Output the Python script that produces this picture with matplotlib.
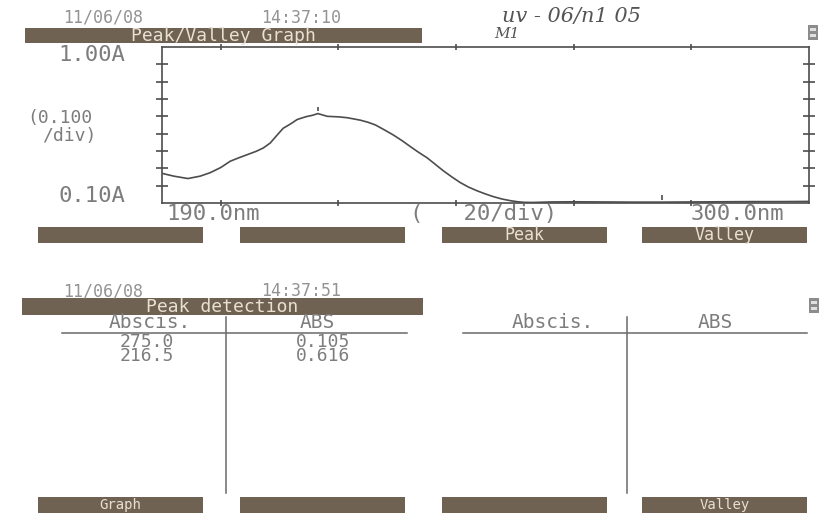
import matplotlib.pyplot as plt
from matplotlib.patches import Rectangle

# spectrum: wavelength (nm) and absorbance (A)
wavelength = [190.0, 192.0, 194.4, 196.5, 198.2, 200.0, 201.6, 203.0, 204.5, 206.0,
              207.2, 208.4, 209.6, 210.6, 211.8, 213.0, 214.5, 215.7, 216.5, 218.1,
              220.0, 221.5, 223.7, 225.0, 226.3, 227.8, 229.3, 230.8, 232.2, 233.6,
              235.1, 236.5, 237.9, 239.3, 240.7, 242.1, 243.6, 245.0, 246.4, 247.8,
              249.3, 250.5, 251.5, 253.0, 256.0, 260.0, 265.0, 270.0, 275.0, 280.0,
              285.0, 290.0, 295.0, 300.0]
absorbance = [0.271, 0.255, 0.241, 0.255, 0.275, 0.305, 0.341, 0.360, 0.379, 0.398,
              0.417, 0.446, 0.493, 0.531, 0.555, 0.582, 0.598, 0.607, 0.616, 0.600,
              0.597, 0.592, 0.578, 0.566, 0.550, 0.522, 0.493, 0.460, 0.426, 0.393,
              0.360, 0.322, 0.284, 0.250, 0.218, 0.192, 0.170, 0.152, 0.136, 0.123,
              0.113, 0.107, 0.104, 0.103, 0.106, 0.107, 0.106, 0.105, 0.105, 0.106,
              0.107, 0.108, 0.108, 0.109]

# peak detection table
peak_abscis = [275.0, 216.5]
peak_abs = [0.105, 0.616]

x_min, x_max = 190.0, 300.0
y_min, y_max = 0.10, 1.00
x_ticks = [200, 220, 240, 260, 280]
y_ticks = [0.2, 0.3, 0.4, 0.5, 0.6, 0.7, 0.8, 0.9]

W, H = 825, 513
INK = '#4d4d4d'
TXT = '#7d7d7d'
BAR = '#6f6253'
BAR_TXT = '#e8e0d2'
MONO = 'DejaVu Sans Mono'

fig = plt.figure(figsize=(W / 100, H / 100), dpi=100, facecolor='white')

# pixel-space layer for the printout furniture (headers, keys, table)
bg = fig.add_axes([0, 0, 1, 1])
bg.set_xlim(0, W)
bg.set_ylim(H, 0)
bg.axis('off')


def label(x, y, s, size=15, color=TXT, ha='center', **kw):
    bg.text(x, y, s, ha=ha, va='center', fontsize=size, color=color, family=MONO, **kw)


def key(x0, x1, y0, y1, s='', size=12):
    bg.add_patch(Rectangle((x0, y0), x1 - x0, y1 - y0, color=BAR, lw=0))
    if s:
        label((x0 + x1) / 2, (y0 + y1) / 2 + 0.5, s, size=size, color=BAR_TXT)


def icon(x0, y0):
    bg.add_patch(Rectangle((x0, y0), 10, 15, color='#8c8c8c', lw=0))
    bg.add_patch(Rectangle((x0 + 2, y0 + 3), 6, 3, color='#e0e0e0', lw=0))
    bg.add_patch(Rectangle((x0 + 2, y0 + 9), 6, 3, color='#e0e0e0', lw=0))


# ---- upper screen: Peak/Valley graph
label(103, 18, '11/06/08', size=12, color='#939393')
label(301, 18, '14:37:10', size=12, color='#939393')
key(25, 422, 28, 43, 'Peak/Valley Graph', size=13)
bg.text(571, 17, 'uv - 06/n1 05', ha='center', va='center', fontsize=15,
        color='#555555', style='italic', family='DejaVu Serif')
bg.text(507, 34, 'M1', ha='center', va='center', fontsize=11,
        color='#555555', style='italic', family='DejaVu Serif')
icon(808, 25)

label(92, 55, '1.00A', size=16)
label(27, 118, '(0.100', size=13, ha='left')
label(42, 136, '/div)', size=13, ha='left')
label(92, 196, '0.10A', size=16)
label(213, 214, '190.0nm', size=16)
label(484, 214, '(   20/div)', size=16)
label(737, 214, '300.0nm', size=16)

for (x0, x1), s in zip([(38, 203), (240, 405), (442, 607), (642, 807)],
                       ['', '', 'Peak', 'Valley']):
    key(x0, x1, 227, 243, s)

ax = fig.add_axes([162 / W, 1 - 203 / H, (809 - 162) / W, (203 - 47) / H])
ax.set_facecolor('none')
ax.plot(wavelength, absorbance, color=INK, lw=1.2)
# peak / valley markers just above the detected points
ax.vlines(peak_abscis, [a + 0.015 for a in peak_abs], [a + 0.04 for a in peak_abs],
          color=INK, lw=1.2)
ax.set_xlim(x_min, x_max)
ax.set_ylim(y_min, y_max)
ax.set_xticks(x_ticks)
ax.set_yticks(y_ticks)
ax.tick_params(axis='x', direction='inout', length=5, width=1.2, color=INK,
               top=True, bottom=True, labelbottom=False)
ax.tick_params(axis='y', direction='inout', length=9, width=1.2, color=INK,
               left=True, right=True, labelleft=False)
for sp in ax.spines.values():
    sp.set_color(INK)
    sp.set_linewidth(1.2)

# ---- lower screen: peak detection table
label(103, 291, '11/06/08', size=12, color='#939393')
label(301, 291, '14:37:51', size=12, color='#939393')
key(22, 423, 298, 315, 'Peak detection', size=13)
icon(809, 298)

for cx_a, cx_b, x0, x1, xv in [(150, 317, 62, 407, 226), (553, 715, 463, 807, 627)]:
    label(cx_a, 323, 'Abscis.', size=14)
    label(cx_b, 323, 'ABS', size=14)
    bg.plot([x0, x1], [333, 333], color='#6a6a6a', lw=1.1)
    bg.plot([xv, xv], [317, 493], color='#6a6a6a', lw=1.1)

# table rows, one text block per column
label(147, 349, '\n'.join(f'{wl:.1f}' for wl in peak_abscis), size=13, linespacing=0.72)
label(323, 349, '\n'.join(f'{a:.3f}' for a in peak_abs), size=13, linespacing=0.72)

for (x0, x1), s in zip([(38, 203), (240, 405), (442, 607), (642, 807)],
                       ['Graph', '', '', 'Valley']):
    key(x0, x1, 497, 513, s, size=10)

fig.savefig('out.png', dpi=100, facecolor='white')
